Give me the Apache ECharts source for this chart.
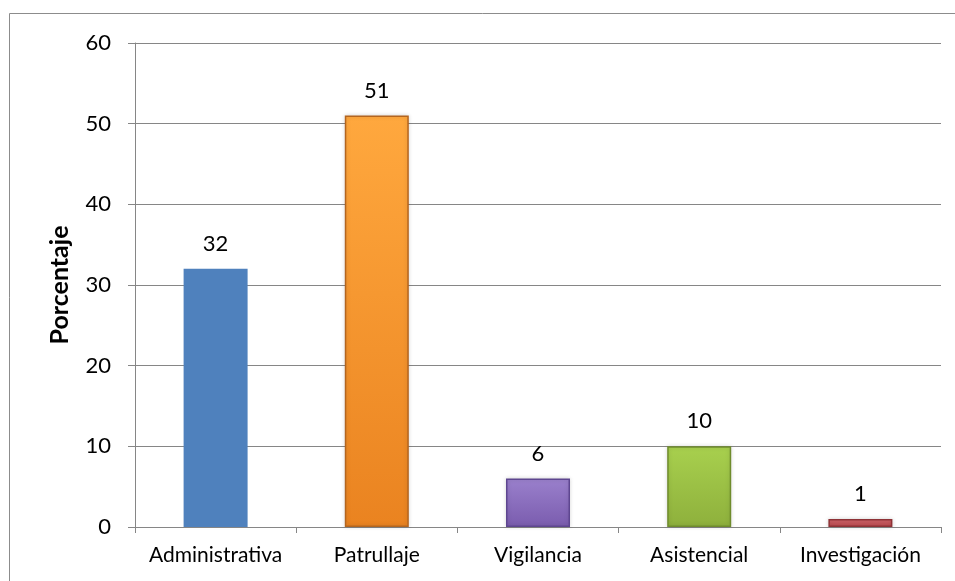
<!DOCTYPE html>
<html>
<head>
<meta charset="utf-8">
<script src="https://cdn.jsdelivr.net/npm/echarts@6/dist/echarts.min.js"></script>
<style>
  html, body { margin: 0; padding: 0; background: #fff; }
  #chart { width: 955px; height: 581px; }
</style>
</head>
<body>
<div id="chart"></div>
<script>
// Distribution by area (percent)
const categories = ['Administrativa', 'Patrullaje', 'Vigilancia', 'Asistencial', 'Investigación'];
const values = [32, 51, 6, 10, 1];
const yTicks = { min: 0, max: 60, interval: 10 };

// Fill per bar: [top, bottom, border]
const fills = [
  null,
  ['#FFA83E', '#EA8320', '#B4651E'],
  ['#9A80CC', '#7A5CAE', '#5E4690'],
  ['#A8D04E', '#8EB03C', '#6F8C2C'],
  ['#D0646A', '#B9474C', '#8E3236']
];

const font = 'Lato, "Open Sans", sans-serif';

function barStyle(i) {
  if (!fills[i]) {
    return { color: '#4F81BD' };
  }
  const f = fills[i];
  return {
    color: {
      type: 'linear', x: 0, y: 0, x2: 0, y2: 1,
      colorStops: [
        { offset: 0, color: f[0] },
        { offset: 1, color: f[1] }
      ]
    },
    borderColor: f[2],
    borderWidth: 1.5,
    shadowColor: 'rgba(0,0,0,0.15)',
    shadowBlur: 4
  };
}

const chart = echarts.init(document.getElementById('chart'));
chart.setOption({
  animation: false,
  backgroundColor: '#fff',
  graphic: [{
    type: 'rect',
    shape: { x: 9.5, y: 13.5, width: 960, height: 600 },
    style: { fill: 'none', stroke: '#8c8c8c', lineWidth: 1 },
    silent: true
  }],
  grid: { left: 135, right: 14, top: 43, bottom: 54 },
  xAxis: {
    type: 'category',
    data: categories,
    axisLine: { lineStyle: { color: '#868686', width: 1 } },
    axisTick: { show: true, length: 6, lineStyle: { color: '#868686' } },
    axisLabel: { color: '#000', fontSize: 21, fontFamily: font, margin: 18, interval: 0 }
  },
  yAxis: {
    type: 'value',
    min: yTicks.min, max: yTicks.max, interval: yTicks.interval,
    name: 'Porcentaje',
    nameLocation: 'middle',
    nameGap: 63,
    nameTextStyle: { color: '#000', fontSize: 25, fontWeight: 'bold', fontFamily: font },
    axisLine: { show: true, lineStyle: { color: '#868686', width: 1 } },
    axisTick: { show: true, length: 7, lineStyle: { color: '#868686' } },
    axisLabel: { color: '#000', fontSize: 22, fontFamily: font, margin: 24 },
    splitLine: { lineStyle: { color: '#868686', width: 1 } }
  },
  series: [{
    type: 'bar',
    barWidth: 64,
    data: values.map((v, i) => ({ value: v, itemStyle: barStyle(i) })),
    label: {
      show: true, position: 'top', distance: 14,
      color: '#000', fontSize: 22, fontFamily: font
    }
  }]
});
</script>
</body>
</html>
